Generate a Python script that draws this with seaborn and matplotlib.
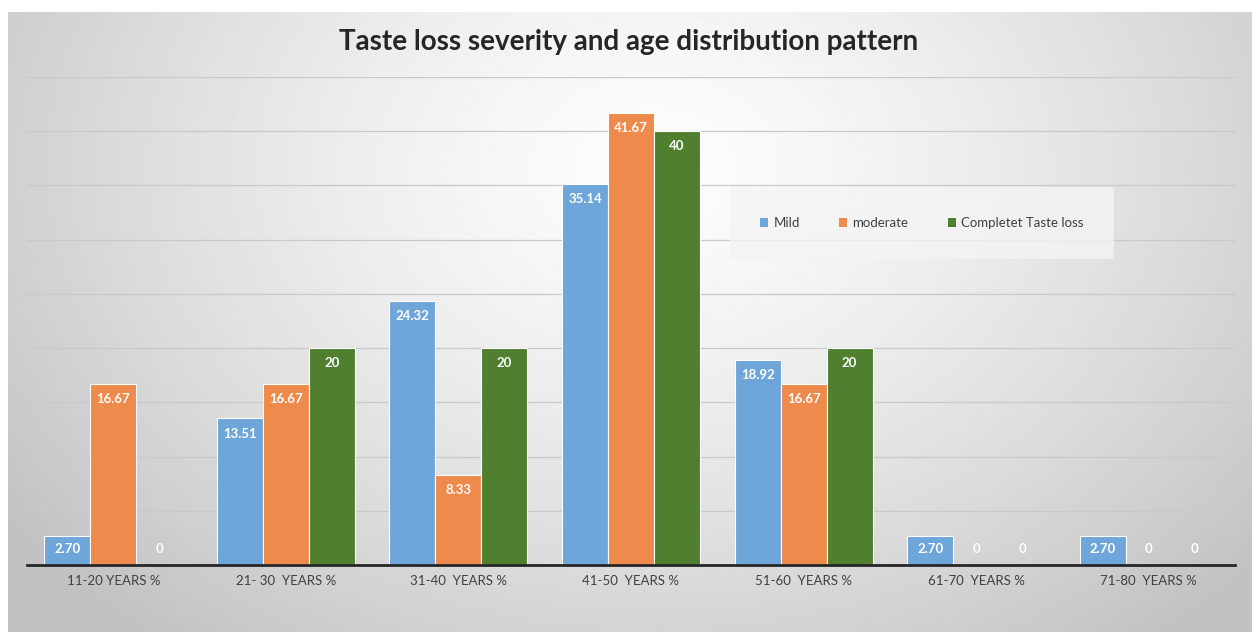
import matplotlib
matplotlib.use("Agg")
import matplotlib.pyplot as plt
from matplotlib.patches import Patch
import seaborn as sns
import pandas as pd
import numpy as np

# data
age_groups = ["11-20 YEARS %", "21- 30  YEARS %", "31-40  YEARS %", "41-50  YEARS %",
              "51-60  YEARS %", "61-70  YEARS %", "71-80  YEARS %"]
severity = ["Mild", "moderate", "Completet Taste loss"]
mild = [2.70, 13.51, 24.32, 35.14, 18.92, 2.70, 2.70]
moderate = [16.67, 16.67, 8.33, 41.67, 16.67, 0, 0]
complete = [0, 20, 20, 40, 20, 0, 0]
colors = ["#6FA6DA", "#EE8A4B", "#4F7F2F"]

df = pd.DataFrame({
    "age": age_groups * 3,
    "severity": np.repeat(severity, len(age_groups)),
    "value": mild + moderate + complete,
})

sns.set_style("white")
plt.rcParams["font.family"] = ["Lato", "DejaVu Sans"]

W, H = 1252, 632
fig = plt.figure(figsize=(W / 100, H / 100), dpi=100)
fig.patch.set_facecolor("white")

# radial gradient background of the chart area
bg = fig.add_axes([8 / W, 0, 1 - 8 / W, 1 - 12 / H])
yy, xx = np.mgrid[0:1:300j, 0:1:600j]
r = np.sqrt(((xx - 0.52) / 0.62) ** 2 + ((yy - 0.25) / 0.95) ** 2)
shade = np.clip(0.99 - 0.22 * r ** 1.4, 0.76, 0.99)
bg.imshow(shade, cmap="gray", vmin=0, vmax=1, aspect="auto", origin="upper")
bg.set_axis_off()

ax = fig.add_axes([27 / W, 1 - 565 / H, (1235 - 27) / W, (565 - 77) / H])
ax.patch.set_alpha(0)
sns.barplot(data=df, x="age", y="value", hue="severity", hue_order=severity,
            palette=colors, saturation=1, width=0.8, edgecolor="white",
            linewidth=0.8, legend=False, ax=ax)

ax.set_ylim(0, 45)
ax.set_yticks(np.arange(5, 46, 5))
ax.yaxis.grid(True, color="#C9C9C9", linewidth=0.9)
ax.set_axisbelow(True)
ax.tick_params(axis="y", left=False, labelleft=False)
ax.tick_params(axis="x", bottom=False, labelsize=9.5, labelcolor="#404040", pad=4)
ax.set_xlabel("")
ax.set_ylabel("")
for s in ["top", "right", "left"]:
    ax.spines[s].set_visible(False)
ax.spines["bottom"].set_color("#262626")
ax.spines["bottom"].set_linewidth(2)

# value labels inside the bar ends
for container, name in zip(ax.containers, severity):
    for bar, v in zip(container, df.loc[df.severity == name, "value"]):
        y = v - 1.4 if v > 2.8 else 1.5
        txt = "0" if v == 0 else (f"{v:g}" if name == "Completet Taste loss" else f"{v:.2f}")
        ax.text(bar.get_x() + bar.get_width() / 2, y, txt,
                ha="center", va="center", color="white", fontsize=9.5, fontweight="bold")

fig.text(0.502, 1 - 42 / H, "Taste loss severity and age distribution pattern",
         ha="center", va="center", fontsize=20, fontweight="bold", color="#262626")

handles = [Patch(facecolor=c, edgecolor="none") for c in colors]
leg = ax.legend(handles, severity, ncol=3, loc="center",
                bbox_to_anchor=(922 / W, 1 - 223 / H), bbox_transform=fig.transFigure,
                frameon=True, fontsize=9.5, handlelength=0.6, handleheight=0.6,
                handletextpad=0.4, columnspacing=3.0, borderpad=2.0)
leg.get_frame().set_facecolor("#F4F4F4")
leg.get_frame().set_alpha(0.8)
leg.get_frame().set_edgecolor("none")
leg.get_frame().set_boxstyle("square")
for t in leg.get_texts():
    t.set_color("#404040")

fig.savefig("out.png", dpi=100)
